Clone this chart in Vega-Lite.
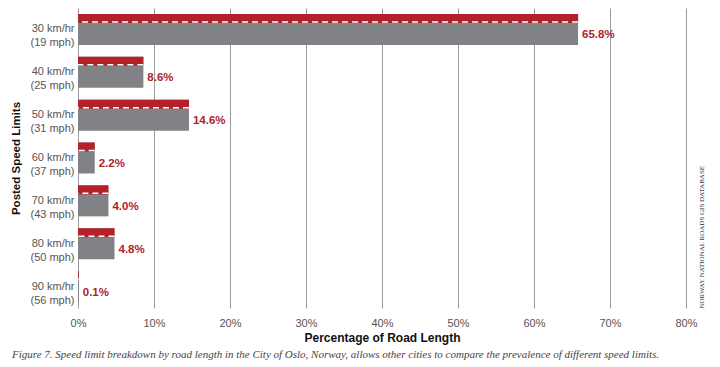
{
  "$schema": "https://vega.github.io/schema/vega-lite/v6.json",
  "autosize": "none",
  "width": 608,
  "height": 300,
  "padding": {"left": 78, "top": 8, "right": 34, "bottom": 59},
  "background": "white",
  "data": {
    "values": [
      {"limit": "30 km/hr|(19 mph)", "pct": 65.8, "label": "65.8%"},
      {"limit": "40 km/hr|(25 mph)", "pct": 8.6, "label": "8.6%"},
      {"limit": "50 km/hr|(31 mph)", "pct": 14.6, "label": "14.6%"},
      {"limit": "60 km/hr|(37 mph)", "pct": 2.2, "label": "2.2%"},
      {"limit": "70 km/hr|(43 mph)", "pct": 4.0, "label": "4.0%"},
      {"limit": "80 km/hr|(50 mph)", "pct": 4.8, "label": "4.8%"},
      {"limit": "90 km/hr|(56 mph)", "pct": 0.1, "label": "0.1%"}
    ]
  },
  "title": {
    "text": "Figure 7. Speed limit breakdown by road length in the City of Oslo, Norway, allows other cities to compare the prevalence of different speed limits.",
    "orient": "bottom",
    "anchor": "start",
    "frame": "group",
    "dx": -66,
    "offset": 6,
    "font": "Liberation Serif",
    "fontStyle": "italic",
    "fontWeight": "normal",
    "fontSize": 11,
    "color": "#444444"
  },
  "config": {
    "view": {"stroke": null},
    "font": "Liberation Sans"
  },
  "resolve": {"axis": {"y": "independent"}},
  "layer": [
    {
      "mark": {"type": "bar", "size": 31, "color": "#818285"},
      "encoding": {
        "y": {
          "field": "limit", "type": "nominal", "sort": null,
          "scale": {"paddingInner": 0, "paddingOuter": 0},
          "axis": {
            "title": "Posted Speed Limits",
            "titleFont": "Liberation Sans",
            "titleFontSize": 11.5,
            "titleFontWeight": "bold",
            "titleColor": "#111111",
            "titlePadding": 8,
            "labelExpr": "split(datum.label, '|')",
            "labelFontSize": 11,
            "labelColor": "#555555",
            "labelLineHeight": 14,
            "labelPadding": 4,
            "ticks": false,
            "domain": false,
            "grid": false
          }
        },
        "x": {
          "field": "pct", "type": "quantitative",
          "scale": {"domain": [0, 80], "nice": false},
          "axis": {
            "title": "Percentage of Road Length",
            "titleFont": "Liberation Sans",
            "titleFontSize": 12,
            "titleFontWeight": "bold",
            "titleColor": "#111111",
            "titlePadding": 4,
            "values": [0, 10, 20, 30, 40, 50, 60, 70, 80],
            "labelExpr": "datum.value + '%'",
            "labelFlush": false,
            "labelFontSize": 11,
            "labelColor": "#555555",
            "labelPadding": 9,
            "ticks": false,
            "domain": false,
            "grid": true,
            "gridColor": "#9a9a9a",
            "gridWidth": 1
          }
        }
      }
    },
    {
      "mark": {"type": "bar", "size": 9, "yOffset": -11, "color": "#b3212a"},
      "encoding": {
        "y": {"field": "limit", "type": "nominal", "sort": null, "axis": null},
        "x": {"field": "pct", "type": "quantitative"}
      }
    },
    {
      "mark": {"type": "rule", "yOffset": -7.5, "color": "white", "strokeWidth": 1.5, "strokeDash": [6, 4]},
      "encoding": {
        "y": {"field": "limit", "type": "nominal", "sort": null, "axis": null},
        "x": {"field": "pct", "type": "quantitative"},
        "x2": {"datum": 0}
      }
    },
    {
      "mark": {"type": "text", "align": "left", "baseline": "middle", "dx": 4, "dy": 6, "fontSize": 11.5, "fontWeight": "bold", "color": "#b3212a"},
      "encoding": {
        "y": {
          "field": "limit", "type": "nominal", "sort": null,
          "axis": {
            "orient": "right",
            "title": "NORWAY NATIONAL ROADS GIS DATABASE",
            "titleFont": "Liberation Serif",
            "titleFontSize": 7,
            "titleFontWeight": "normal",
            "titleColor": "#333333",
            "titleAngle": 270,
            "titleAnchor": "end",
            "titleAlign": "left",
            "titlePadding": 18,
            "labels": false,
            "ticks": false,
            "domain": false,
            "grid": false
          }
        },
        "x": {"field": "pct", "type": "quantitative"},
        "text": {"field": "label"}
      }
    }
  ]
}
